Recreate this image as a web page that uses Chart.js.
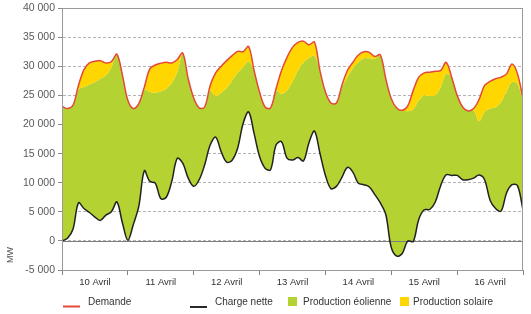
<!DOCTYPE html>
<html>
<head>
<meta charset="utf-8">
<script src="https://cdn.jsdelivr.net/npm/chart.js@4.4.1/dist/chart.umd.min.js"></script>
<style>
    html, body { margin: 0; padding: 0; background: #fff; }
</style>
</head>
<body>
<canvas id="chart" width="531" height="314"></canvas>
<script>
// hours since 10 April 00:00, every 2 hours
const hours = [0, 2, 4, 6, 8, 10, 12, 14, 16, 18, 20, 22,
    24, 26, 28, 30, 32, 34, 36, 38, 40, 42, 44, 46,
    48, 50, 52, 54, 56, 58, 60, 62, 64, 66, 68, 70,
    72, 74, 76, 78, 80, 82, 84, 86, 88, 90, 92, 94,
    96, 98, 100, 102, 104, 106, 108, 110, 112, 114, 116, 118,
    120, 122, 124, 126, 128, 130, 132, 134, 136, 138, 140, 142,
    144, 146, 148, 150, 152, 154, 156, 158, 160, 162, 164, 166,
    168];

const dayLabels = ["10 Avril", "11 Avril", "12 Avril", "13 Avril", "14 Avril", "15 Avril", "16 Avril"];

// MW
const demand = [23150, 22750, 23320, 26730, 29460, 30600, 30880, 30990, 30600, 30820, 32100, 28550,
    24170, 22750, 23600, 26440, 29570, 30250, 30540, 30710, 30600, 31200, 32300, 27870,
    24570, 22860, 23030, 26730, 28890, 30030, 30990, 31850, 32590, 32530, 33440, 29290,
    25590, 23030, 22860, 26160, 29290, 31560, 33270, 34120, 34350, 33720, 34200, 29290,
    25590, 23710, 23710, 26730, 29290, 30710, 31960, 32530, 32420, 31700, 32000, 27870,
    24450, 22860, 22460, 23200, 25880, 28150, 28890, 29000, 29170, 29290, 30710, 28150,
    25020, 23030, 22350, 22750, 24340, 26730, 27410, 27870, 28150, 28720, 30400, 28720,
    24450];

const solar = [0, 0, 0, 700, 3020, 3700, 3580, 3120, 2170, 960, 0, 0,
    0, 0, 0, 390, 3980, 4770, 4840, 4550, 3420, 2200, 0, 0,
    0, 0, 0, 850, 3980, 4550, 4720, 4270, 3700, 2670, 2600, 0,
    0, 0, 0, 280, 3980, 5680, 5870, 4830, 3640, 2270, 2400, 0,
    0, 0, 0, 290, 1140, 1020, 1250, 1140, 1030, 400, 0, 0,
    0, 0, 0, 910, 3250, 3980, 3870, 4090, 4150, 2850, 1990, 0,
    0, 0, 0, 290, 3750, 4550, 4660, 4890, 4260, 3020, 3100, 1710,
    280];

const netLoad = [0, 450, 2000, 6540, 5570, 4890, 4090, 3530, 4440, 5000, 6710, 3130,
    110, 2840, 5970, 12060, 10240, 9950, 7280, 7510, 10240, 14200, 13360, 10800,
    9380, 10520, 13080, 16490, 17860, 15350, 13540, 13880, 15920, 20190, 22180, 18480,
    14500, 12510, 12230, 16490, 17060, 14220, 13900, 14330, 13760, 16890, 18880, 15070,
    11260, 8990, 9380, 10920, 12630, 11830, 9900, 9670, 9270, 7960, 6540, 4550,
    -1140, -2620, -2160, 0, -110, 3700, 5350, 5400, 6650, 9500, 11370, 11260,
    11260, 10520, 10520, 10800, 11320, 10520, 7000, 5570, 5120, 8250, 9670, 9500,
    5300];

const windTop = demand.map((d, i) => d - solar[i]);
const toPoints = arr => arr.map((v, i) => ({ x: hours[i], y: v }));

const fmt = v => String(v).replace(/\B(?=(\d{3})+(?!\d))/g, " ");

const extras = {
    id: "extras",
    beforeDatasetsDraw(chart) {
        const { ctx, chartArea: a, scales: { y } } = chart;
        const y0 = Math.round(y.getPixelForValue(0)) + 0.5;
        ctx.save();
        ctx.strokeStyle = "#7d7d7d";
        ctx.lineWidth = 1;
        ctx.beginPath();
        ctx.moveTo(a.left, y0);
        ctx.lineTo(a.right, y0);
        ctx.stroke();
        ctx.restore();
    },
    afterDraw(chart) {
        const { ctx, chartArea: a } = chart;
        ctx.save();
        // frame
        ctx.strokeStyle = "#9a9a9a";
        ctx.lineWidth = 1;
        ctx.strokeRect(Math.round(a.left) + 0.5, Math.round(a.top) + 0.5,
            Math.round(a.right - a.left) - 1, Math.round(a.bottom - a.top));

        // MW
        ctx.fillStyle = "#555";
        ctx.font = "9px 'Liberation Sans', Arial, sans-serif";
        ctx.translate(11, 255);
        ctx.rotate(-Math.PI / 2);
        ctx.textAlign = "center";
        ctx.textBaseline = "middle";
        ctx.fillText("MW", 0, 0);
        ctx.restore();

        // legend
        ctx.save();
        ctx.font = "10px 'Liberation Sans', Arial, sans-serif";
        ctx.fillStyle = "#333";
        ctx.textBaseline = "middle";
        const ty = 302;
        ctx.lineWidth = 2;
        ctx.strokeStyle = "#e5483a";
        ctx.beginPath(); ctx.moveTo(63, 306.5); ctx.lineTo(80, 306.5); ctx.stroke();
        ctx.fillText("Demande", 88, ty);
        ctx.strokeStyle = "#2a2a2a";
        ctx.beginPath(); ctx.moveTo(190, 307); ctx.lineTo(207, 307); ctx.stroke();
        ctx.fillText("Charge nette", 215, ty);
        ctx.fillStyle = "#b4d332";
        ctx.fillRect(288, 297, 9, 9);
        ctx.fillStyle = "#333";
        ctx.fillText("Production \u00e9olienne", 303, ty);
        ctx.fillStyle = "#ffd600";
        ctx.fillRect(400, 297, 9, 9);
        ctx.fillStyle = "#333";
        ctx.fillText("Production solaire", 413, ty);
        ctx.restore();
    }
};

const ctx = document.getElementById("chart").getContext("2d");
const chart = new Chart(ctx, {
    type: "line",
    data: {
        datasets: [{
            label: "Demande",
            data: toPoints(demand),
            borderColor: "#e5483a",
            borderWidth: 1.5,
            backgroundColor: "#ffd600",
            fill: "+1",
            pointRadius: 0
        }, {
            label: "Production éolienne",
            data: toPoints(windTop),
            borderWidth: 0,
            borderColor: "rgba(0,0,0,0)",
            backgroundColor: "#b4d332",
            fill: "+1",
            pointRadius: 0
        }, {
            label: "Charge nette",
            data: toPoints(netLoad),
            borderColor: "#222",
            borderWidth: 1.5,
            fill: false,
            pointRadius: 0
        }]
    },
    options: {
        responsive: false,
        animation: false,
        layout: { padding: { top: 6, right: 8, left: 0, bottom: 0 } },
        elements: { line: { tension: 0.35 } },
        plugins: {
            legend: { display: false },
            tooltip: { enabled: false },
            filler: { drawTime: "beforeDatasetsDraw" }
        },
        scales: {
            x: {
                type: "linear",
                min: 0,
                max: 168,
                afterBuildTicks: s => {
                    s.ticks = [0, 12, 24, 36, 48, 60, 72, 84, 96, 108, 120, 132, 144, 156, 168].map(v => ({ value: v }));
                },
                afterFit: s => { s.height = 44; },
                grid: {
                    drawOnChartArea: false,
                    drawTicks: true,
                    tickLength: 5,
                    tickColor: c => (c.tick && c.tick.value % 24 === 0) ? "#808080" : "rgba(0,0,0,0)"
                },
                border: { display: true, color: "#8a8a8a" },
                ticks: {
                    autoSkip: false,
                    maxRotation: 0,
                    padding: 2,
                    color: "#333",
                    font: { family: "'Liberation Sans', Arial, sans-serif", size: 9.5 },
                    callback: v => (v % 24 === 12) ? dayLabels[(v - 12) / 24] : ""
                }
            },
            y: {
                min: -5000,
                max: 40000,
                afterFit: s => { s.width = 62; },
                grid: {
                    color: "#b4b4b4",
                    tickColor: "#8a8a8a",
                    tickLength: 4
                },
                border: { display: true, color: "#8a8a8a", dash: [3, 2] },
                ticks: {
                    stepSize: 5000,
                    padding: 3,
                    color: "#595959",
                    font: { family: "'Liberation Sans', Arial, sans-serif", size: 10.5, lineHeight: 1 },
                    callback: v => fmt(v)
                }
            }
        }
    },
    plugins: [extras]
});
</script>
</body>
</html>
